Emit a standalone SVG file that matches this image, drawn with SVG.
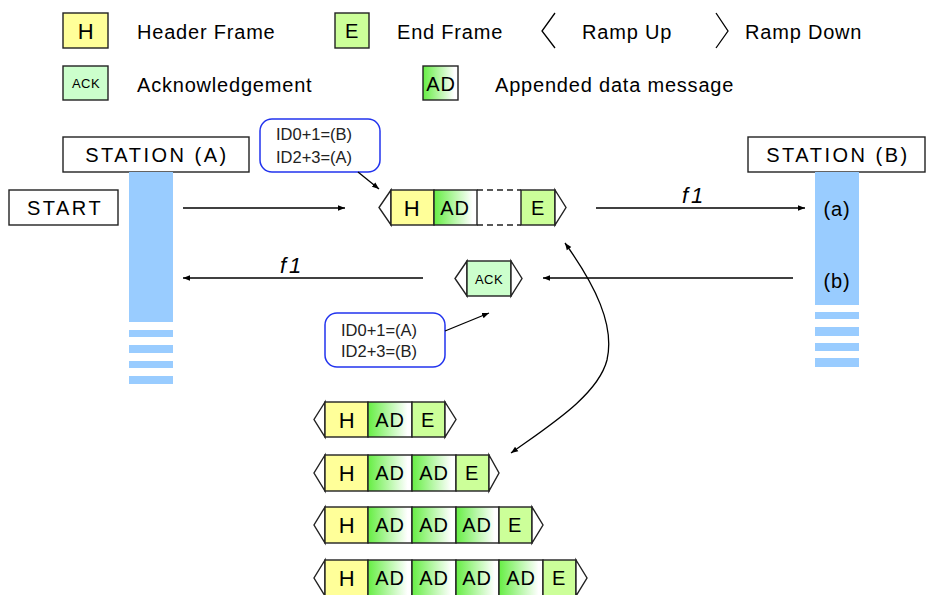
<svg xmlns="http://www.w3.org/2000/svg" width="926" height="595" viewBox="0 0 926 595">
<style>
.t{font-family:"Liberation Sans",Arial,sans-serif;font-size:20px;letter-spacing:0.8px;fill:#000}
.c{font-family:"Liberation Sans",Arial,sans-serif;font-size:20px;letter-spacing:2.5px;fill:#000}
.m{text-anchor:middle}
.hl{font-size:22px}
.sm{font-size:13px;letter-spacing:0.5px}
.id{font-family:"Liberation Sans",Arial,sans-serif;font-size:16.5px;fill:#222}
.f{font-family:"Liberation Sans",Arial,sans-serif;font-size:22px;font-style:italic;letter-spacing:3px}
.b{stroke:#222;stroke-width:1.4}
.hf{fill:#ffff99}
.ef{fill:#ccff99}
.af{fill:url(#adg)}
.kf{fill:#ccffcc}
.rp{fill:#fff;stroke:#222;stroke-width:1.4;stroke-linejoin:miter}
.bar{fill:#99ccff}
.box{fill:#fff;stroke:#222;stroke-width:1.4}
.call{fill:#fff;stroke:#2233ee;stroke-width:1.5}
.ln{stroke:#000;stroke-width:1.3;fill:none}
</style>
<defs>
<linearGradient id="adg" x1="0" y1="0" x2="1" y2="0">
<stop offset="0" stop-color="#66ee44"/>
<stop offset="0.9" stop-color="#ffffff"/>
</linearGradient>
<marker id="ah" viewBox="0 0 10 10" refX="10" refY="5" markerWidth="7" markerHeight="7" orient="auto-start-reverse" markerUnits="userSpaceOnUse">
<path d="M0,1 L10,5 L0,9 z" fill="#000"/>
</marker>
</defs>

<g id="legend">
<rect class="b hf" x="63" y="13" width="45" height="35"/>
<text class="t m hl" x="86" y="39">H</text>
<text class="t" x="137" y="39">Header Frame</text>
<rect class="b ef" x="335" y="13" width="34" height="35"/>
<text class="t m" x="352" y="38">E</text>
<text class="t" x="397" y="39">End Frame</text>
<polyline class="ln" points="555,13 542,31 555,48"/>
<text class="t" x="582" y="39">Ramp Up</text>
<polyline class="ln" points="716,13 728,31 716,48"/>
<text class="t" x="745" y="39">Ramp Down</text>
<rect class="b kf" x="63" y="66" width="45" height="34"/>
<text class="t m sm" x="86" y="88">ACK</text>
<text class="t" x="137" y="92">Acknowledgement</text>
<rect class="b af" x="423" y="66" width="35" height="34"/>
<text class="t m" x="441" y="91">AD</text>
<text class="t" x="495" y="92">Appended data message</text>
</g>

<g id="stationA">
<rect class="box" x="63" y="137" width="186" height="35"/>
<text class="c m" x="157" y="162">STATION (A)</text>
<rect class="bar" x="129" y="172" width="44" height="150"/>
<rect class="bar" x="129" y="330" width="44" height="7"/>
<rect class="bar" x="129" y="345" width="44" height="8"/>
<rect class="bar" x="129" y="361" width="44" height="7"/>
<rect class="bar" x="129" y="376" width="44" height="8"/>
</g>

<g id="stationB">
<rect class="box" x="748" y="137" width="177" height="35"/>
<text class="c m" x="838" y="162">STATION (B)</text>
<rect class="bar" x="815" y="172" width="44" height="133"/>
<rect class="bar" x="815" y="312" width="44" height="7"/>
<rect class="bar" x="815" y="327" width="44" height="9"/>
<rect class="bar" x="815" y="343" width="44" height="8"/>
<rect class="bar" x="815" y="358" width="44" height="9"/>
<text class="t m" x="837" y="216">(a)</text>
<text class="t m" x="837" y="288">(b)</text>
</g>

<g id="start">
<rect class="box" x="9" y="190" width="109" height="35"/>
<text class="c m" x="65" y="215">START</text>
</g>

<g id="callout1">
<rect class="call" x="260" y="119" width="120" height="53" rx="12"/>
<text class="id" x="276" y="140">ID0+1=(B)</text>
<text class="id" x="276" y="163">ID2+3=(A)</text>
</g>

<g id="frameTop">
<polygon class="rp" points="391,190 379,207.5 391,225"/>
<rect class="b hf" x="391" y="190" width="43" height="35"/>
<text class="t m hl" x="412" y="216">H</text>
<rect class="b af" x="434" y="190" width="43" height="35"/>
<text class="t m" x="455" y="215">AD</text>
<line x1="477" y1="190" x2="521" y2="190" stroke="#222" stroke-width="1.3" stroke-dasharray="6,4"/>
<line x1="477" y1="225" x2="521" y2="225" stroke="#222" stroke-width="1.3" stroke-dasharray="6,4"/>
<rect class="b ef" x="521" y="190" width="34" height="35"/>
<text class="t m" x="538" y="215">E</text>
<polygon class="rp" points="555,190 566,207.5 555,225"/>
</g>

<g id="ackFrame">
<polygon class="rp" points="467,261 455,278.5 467,296"/>
<rect class="b kf" x="467" y="261" width="44" height="35"/>
<text class="t m sm" x="489" y="284">ACK</text>
<polygon class="rp" points="511,261 522,278.5 511,296"/>
</g>

<g id="callout2">
<rect class="call" x="325" y="313" width="120" height="54" rx="12"/>
<text class="id" x="341" y="336">ID0+1=(A)</text>
<text class="id" x="341" y="357">ID2+3=(B)</text>
</g>

<g id="frame1">
<polygon class="rp" points="325,402 314,419.5 325,437"/>
<rect class="b hf" x="325" y="402" width="43" height="35"/>
<text class="t m hl" x="347" y="428">H</text>
<rect class="b af" x="368" y="402" width="44" height="35"/>
<text class="t m" x="390" y="427">AD</text>
<rect class="b ef" x="412" y="402" width="33" height="35"/>
<text class="t m" x="428" y="427">E</text>
<polygon class="rp" points="445,402 456,419.5 445,437"/>
</g>

<g id="frame2">
<polygon class="rp" points="325,455 314,473 325,491"/>
<rect class="b hf" x="325" y="455" width="43" height="36"/>
<text class="t m hl" x="347" y="481">H</text>
<rect class="b af" x="368" y="455" width="44" height="36"/>
<text class="t m" x="390" y="480">AD</text>
<rect class="b af" x="412" y="455" width="44" height="36"/>
<text class="t m" x="434" y="480">AD</text>
<rect class="b ef" x="456" y="455" width="33" height="36"/>
<text class="t m" x="472" y="480">E</text>
<polygon class="rp" points="489,455 499,473 489,491"/>
</g>

<g id="frame3">
<polygon class="rp" points="325,507 314,525 325,543"/>
<rect class="b hf" x="325" y="507" width="43" height="36"/>
<text class="t m hl" x="347" y="533">H</text>
<rect class="b af" x="368" y="507" width="44" height="36"/>
<text class="t m" x="390" y="532">AD</text>
<rect class="b af" x="412" y="507" width="44" height="36"/>
<text class="t m" x="434" y="532">AD</text>
<rect class="b af" x="456" y="507" width="43" height="36"/>
<text class="t m" x="477" y="532">AD</text>
<rect class="b ef" x="499" y="507" width="33" height="36"/>
<text class="t m" x="515" y="532">E</text>
<polygon class="rp" points="532,507 543,525 532,543"/>
</g>

<g id="frame4">
<polygon class="rp" points="325,560 314,578 325,596"/>
<rect class="b hf" x="325" y="560" width="43" height="36"/>
<text class="t m hl" x="347" y="586">H</text>
<rect class="b af" x="368" y="560" width="44" height="36"/>
<text class="t m" x="390" y="585">AD</text>
<rect class="b af" x="412" y="560" width="44" height="36"/>
<text class="t m" x="434" y="585">AD</text>
<rect class="b af" x="456" y="560" width="43" height="36"/>
<text class="t m" x="477" y="585">AD</text>
<rect class="b af" x="499" y="560" width="44" height="36"/>
<text class="t m" x="521" y="585">AD</text>
<rect class="b ef" x="543" y="560" width="33" height="36"/>
<text class="t m" x="559" y="585">E</text>
<polygon class="rp" points="576,560 587,578 576,596"/>
</g>

<g id="connectors">
<line class="ln" x1="183" y1="208" x2="345" y2="208" marker-end="url(#ah)"/>
<line class="ln" x1="596" y1="208" x2="805" y2="208" marker-end="url(#ah)"/>
<text class="f" x="682" y="203">f1</text>
<line class="ln" x1="423" y1="278" x2="183" y2="278" marker-end="url(#ah)"/>
<text class="f" x="280" y="273">f1</text>
<line class="ln" x1="793" y1="278" x2="543" y2="278" marker-end="url(#ah)"/>
<line class="ln" x1="358" y1="172" x2="379" y2="189" marker-end="url(#ah)"/>
<line class="ln" x1="445" y1="331" x2="489" y2="313" marker-end="url(#ah)"/>
<path class="ln" d="M565,243 C595,285 615,325 607,360 C598,395 550,425 511,453" marker-start="url(#ah)" marker-end="url(#ah)"/>
</g>
</svg>
